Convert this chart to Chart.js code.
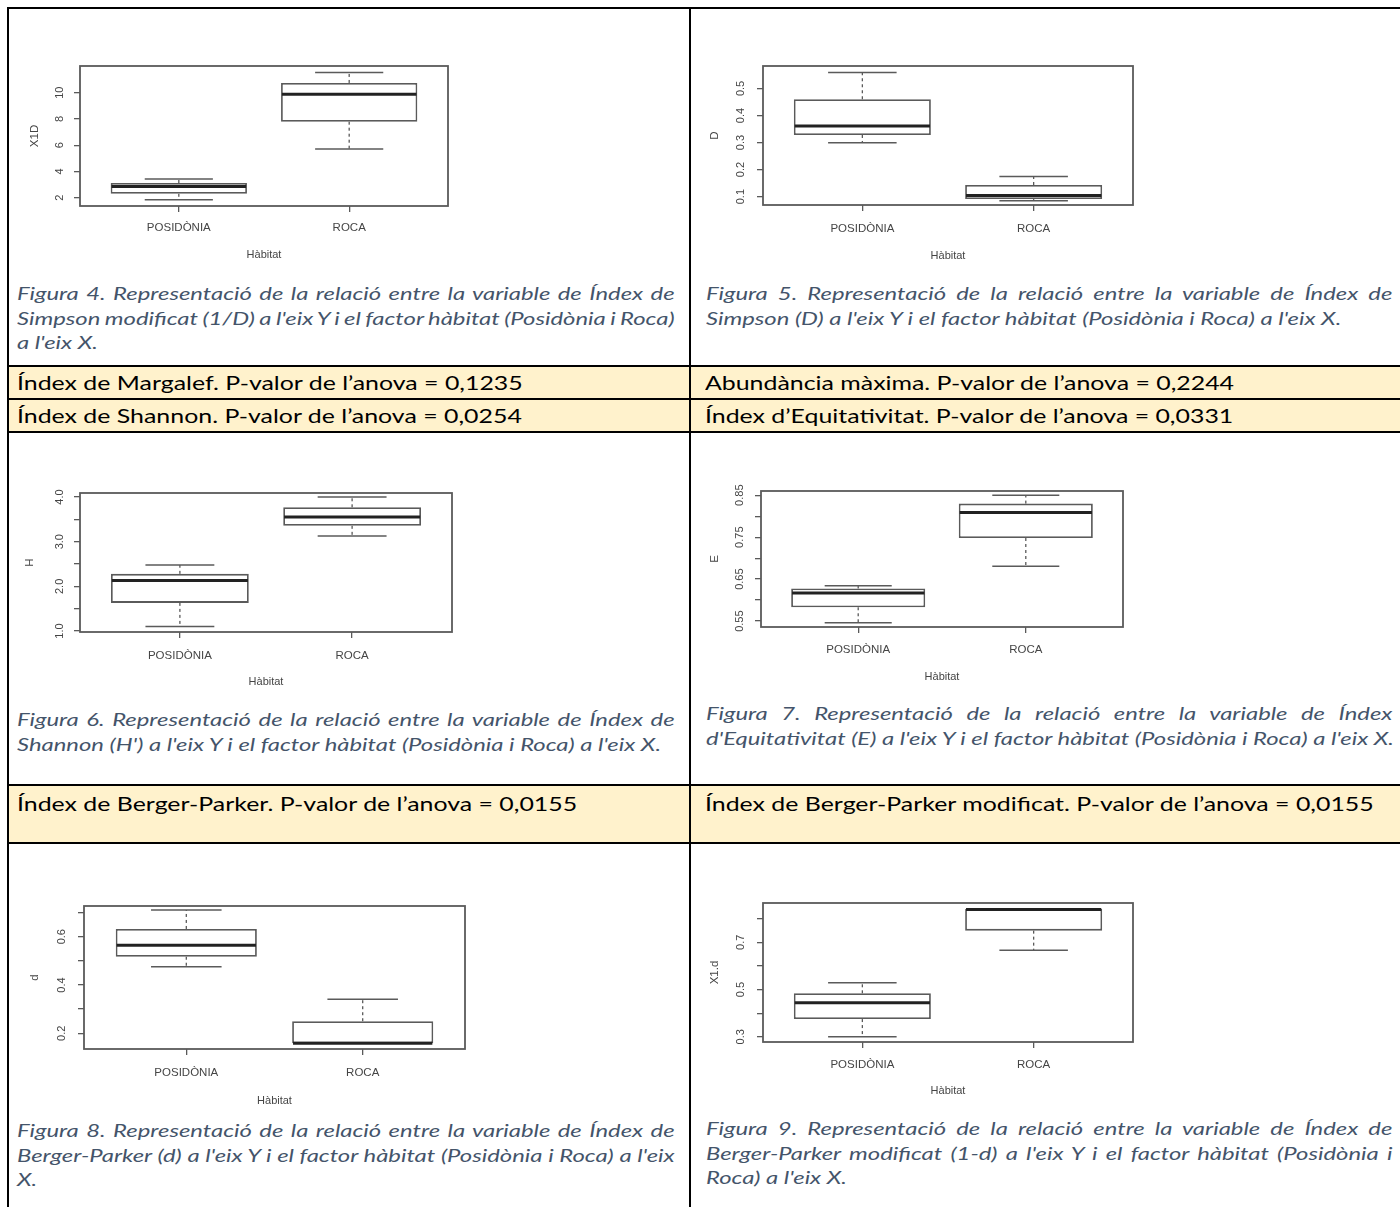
<!DOCTYPE html>
<html><head><meta charset="utf-8">
<script src="https://cdn.jsdelivr.net/npm/chart.js@4.4.1/dist/chart.umd.min.js"></script>
<style>
html,body{margin:0;padding:0;background:#fff;}
body{width:1400px;height:1207px;position:relative;overflow:hidden;font-family:Lato,"Noto Sans",sans-serif;}
.hl{position:absolute;height:2px;background:#000;}
.vl{position:absolute;width:2px;background:#000;}
.band{position:absolute;background:#FFF2CC;}
.bt{position:absolute;font-size:19px;color:#000;white-space:nowrap;transform:scaleX(1.31);transform-origin:0 0;}
.cap{position:absolute;color:#44546A;font-style:italic;font-size:17.4px;transform:scaleX(1.37);transform-origin:0 0;}
.cap div{height:24.5px;line-height:24.5px;white-space:nowrap;}
.cap .j{text-align:justify;text-align-last:justify;word-spacing:-2px;}
canvas.ch{position:absolute;filter:blur(0.3px);}
</style>
</head><body>

<!-- yellow bands -->
<div class="band" style="left:8px;top:367px;width:1392px;height:65px"></div>
<div class="band" style="left:8px;top:786px;width:1392px;height:57px"></div>

<!-- table lines -->
<div class="hl" style="left:7px;top:7px;width:1393px"></div>
<div class="hl" style="left:7px;top:365px;width:1393px"></div>
<div class="hl" style="left:7px;top:398px;width:1393px"></div>
<div class="hl" style="left:7px;top:431px;width:1393px"></div>
<div class="hl" style="left:7px;top:784px;width:1393px"></div>
<div class="hl" style="left:7px;top:842px;width:1393px"></div>
<div class="vl" style="left:7px;top:7px;height:1200px"></div>
<div class="vl" style="left:689px;top:7px;height:1200px"></div>

<!-- band texts -->
<div class="bt" style="left:17px;top:367px;line-height:31px">Índex de Margalef. P-valor de l’anova = 0,1235</div>
<div class="bt" style="left:705px;top:367px;line-height:31px">Abundància màxima. P-valor de l’anova = 0,2244</div>
<div class="bt" style="left:17px;top:400px;line-height:31px">Índex de Shannon. P-valor de l’anova = 0,0254</div>
<div class="bt" style="left:705px;top:400px;line-height:31px">Índex d’Equitativitat. P-valor de l’anova = 0,0331</div>
<div class="bt" style="left:17px;top:788px;line-height:31px">Índex de Berger-Parker. P-valor de l’anova = 0,0155</div>
<div class="bt" style="left:705px;top:788px;line-height:31px">Índex de Berger-Parker modificat. P-valor de l’anova = 0,0155</div>

<!-- captions (widths are unscaled = target / 1.37) -->
<div class="cap" style="left:17px;top:282px;width:480px">
<div class="j">Figura 4. Representació de la relació entre la variable de Índex de</div>
<div class="j">Simpson modificat (1/D) a l'eix Y i el factor hàbitat (Posidònia i Roca)</div>
<div>a l'eix X.</div>
</div>
<div class="cap" style="left:706px;top:282px;width:501px">
<div class="j">Figura 5. Representació de la relació entre la variable de Índex de</div>
<div>Simpson (D) a l'eix Y i el factor hàbitat (Posidònia i Roca) a l'eix X.</div>
</div>
<div class="cap" style="left:17px;top:708px;width:480px">
<div class="j">Figura 6. Representació de la relació entre la variable de Índex de</div>
<div>Shannon (H') a l'eix Y i el factor hàbitat (Posidònia i Roca) a l'eix X.</div>
</div>
<div class="cap" style="left:706px;top:702px;width:501px">
<div class="j">Figura 7. Representació de la relació entre la variable de Índex</div>
<div>d'Equitativitat (E) a l'eix Y i el factor hàbitat (Posidònia i Roca) a l'eix X.</div>
</div>
<div class="cap" style="left:17px;top:1119px;width:480px">
<div class="j">Figura 8. Representació de la relació entre la variable de Índex de</div>
<div class="j">Berger-Parker (d) a l'eix Y i el factor hàbitat (Posidònia i Roca) a l'eix</div>
<div>X.</div>
</div>
<div class="cap" style="left:706px;top:1117px;width:501px">
<div class="j">Figura 9. Representació de la relació entre la variable de Índex de</div>
<div class="j">Berger-Parker modificat (1-d) a l'eix Y i el factor hàbitat (Posidònia i</div>
<div>Roca) a l'eix X.</div>
</div>

<canvas class="ch" id="c1"></canvas>
<canvas class="ch" id="c2"></canvas>
<canvas class="ch" id="c3"></canvas>
<canvas class="ch" id="c4"></canvas>
<canvas class="ch" id="c5"></canvas>
<canvas class="ch" id="c6"></canvas>

<script>
// ---------- DATA ----------
const categories = ['POSIDÒNIA', 'ROCA'];
const xTitle = 'Hàbitat';
// each stats array: [lower whisker, Q1, median, Q3, upper whisker]

// Figura 4 — X1D (1/D)
const x1dPosidonia = [1.85, 2.30, 2.86, 3.12, 3.42];
const x1dRoca      = [5.71, 7.79, 9.88, 10.74, 11.53];
const x1dTicks     = [2, 4, 6, 8, 10];
const x1dTickLabels = ['2', '4', '6', '8', '10'];
const x1dRange     = [1.37, 12.03];

// Figura 5 — D
const dSimPosidonia = [0.299, 0.328, 0.361, 0.460, 0.559];
const dSimRoca      = [0.085, 0.091, 0.104, 0.143, 0.174];
const dSimTicks     = [0.1, 0.2, 0.3, 0.4, 0.5];
const dSimTickLabels = ['0.1', '0.2', '0.3', '0.4', '0.5'];
const dSimRange     = [0.069, 0.583];

// Figura 6 — H
const hPosidonia = [1.10, 1.63, 2.13, 2.28, 2.48];
const hRoca      = [3.13, 3.355, 3.55, 3.77, 4.00];
const hTicks     = [1.0, 1.5, 2.0, 2.5, 3.0, 3.5, 4.0];
const hTickLabels = ['1.0', '', '2.0', '', '3.0', '', '4.0'];
const hRange     = [0.978, 4.09];

// Figura 7 — E
const ePosidonia = [0.546, 0.583, 0.617, 0.628, 0.634];
const eRoca      = [0.681, 0.748, 0.809, 0.830, 0.850];
const eTicks     = [0.55, 0.60, 0.65, 0.70, 0.75, 0.80, 0.85];
const eTickLabels = ['0.55', '', '0.65', '', '0.75', '', '0.85'];
const eRange     = [0.536, 0.860];

// Figura 8 — d (Berger-Parker)
const bpPosidonia = [0.476, 0.517, 0.564, 0.632, 0.710];
const bpRoca      = [0.159, 0.159, 0.159, 0.250, 0.341];
const bpTicks     = [0.2, 0.3, 0.4, 0.5, 0.6, 0.7];
const bpTickLabels = ['0.2', '', '0.4', '', '0.6', ''];
const bpRange     = [0.135, 0.727];

// Figura 9 — X1.d (1-d)
const bpmPosidonia = [0.300, 0.375, 0.444, 0.484, 0.529];
const bpmRoca      = [0.666, 0.749, 0.838, 0.841, 0.841];
const bpmTicks     = [0.3, 0.4, 0.5, 0.6, 0.7, 0.8];
const bpmTickLabels = ['0.3', '', '0.5', '', '0.7', ''];
const bpmRange     = [0.278, 0.866];

// ---------- LAYOUT (plot-box positions in page pixels) ----------
const layouts = {
  c1: {L: 80,  T: 66,  R: 448,  B: 206,  tickDist: 20, yTitleDist: 45, xLabDist: 21, xTitleDist: 49},
  c2: {L: 763, T: 66,  R: 1133, B: 205,  tickDist: 22, yTitleDist: 48, xLabDist: 23, xTitleDist: 51},
  c3: {L: 80,  T: 493, R: 452,  B: 632,  tickDist: 20, yTitleDist: 50, xLabDist: 23, xTitleDist: 50},
  c4: {L: 761, T: 491, R: 1123, B: 627,  tickDist: 21, yTitleDist: 46, xLabDist: 22, xTitleDist: 50},
  c5: {L: 84,  T: 906, R: 465,  B: 1049, tickDist: 22, yTitleDist: 49, xLabDist: 23, xTitleDist: 52},
  c6: {L: 763, T: 903, R: 1133, B: 1042, tickDist: 22, yTitleDist: 48, xLabDist: 22, xTitleDist: 49}
};

const FONT = '"Liberation Sans", Arial, Helvetica, sans-serif';
const TXT = '#454545';
const LINE = '#5a5a5a';
Chart.defaults.font.family = FONT;
Chart.defaults.font.size = 11;

const mctx = document.createElement('canvas').getContext('2d');
mctx.font = '11px ' + FONT;
const measure = t => mctx.measureText(t).width;

const boxWhisk = {
  id: 'boxWhisk',
  afterDatasetsDraw(chart, args, opts) {
    const ctx = chart.ctx, ys = chart.scales.y;
    const meta = chart.getDatasetMeta(0);
    const line = (x1, y1, x2, y2) => { ctx.beginPath(); ctx.moveTo(x1, y1); ctx.lineTo(x2, y2); ctx.stroke(); };
    ctx.save();
    opts.stats.forEach((s, i) => {
      const el = meta.data[i];
      const cx = el.x, w = el.width;
      const pMin = ys.getPixelForValue(s[0]), pQ1 = ys.getPixelForValue(s[1]);
      const pMed = ys.getPixelForValue(s[2]), pQ3 = ys.getPixelForValue(s[3]);
      const pMax = ys.getPixelForValue(s[4]);
      ctx.strokeStyle = LINE; ctx.lineWidth = 1.3;
      ctx.setLineDash([3, 3]);
      line(cx, pQ3, cx, pMax);
      line(cx, pQ1, cx, pMin);
      ctx.setLineDash([]);
      ctx.lineWidth = 1.5;
      line(cx - w / 4, pMax, cx + w / 4, pMax);
      line(cx - w / 4, pMin, cx + w / 4, pMin);
      ctx.strokeStyle = '#222'; ctx.lineWidth = 3;
      line(cx - w / 2 + 0.9, pMed, cx + w / 2 - 0.9, pMed);
    });
    const a = chart.chartArea;
    ctx.strokeStyle = LINE; ctx.lineWidth = 1.8;
    ctx.strokeRect(a.left, a.top, a.right - a.left, a.bottom - a.top);
    ctx.restore();
  }
};

function boxChart(id, yTitle, posStats, rocaStats, yRange, yTicks, yTickLabels) {
  const lay = layouts[id];
  const cv = document.getElementById(id);
  const padT = 16, padR = 12, axW = 64, axH = 66, TL = 6;
  const W = lay.R - lay.L + axW + padR, H = lay.B - lay.T + padT + axH;
  cv.width = W; cv.height = H;
  cv.style.left = (lay.L - axW) + 'px'; cv.style.top = (lay.T - padT) + 'px';
  const widest = Math.max(...yTickLabels.map(measure));
  const gridOpts = {display: true, drawOnChartArea: false, drawTicks: true, tickLength: TL, color: LINE, lineWidth: 1.3, offset: false};
  return new Chart(cv, {
    type: 'bar',
    data: {
      datasets: [{
        data: [{x: 1, y: [posStats[1], posStats[3]]}, {x: 2, y: [rocaStats[1], rocaStats[3]]}],
        backgroundColor: '#ffffff', borderColor: LINE, borderWidth: 1.8, borderSkipped: false,
        barPercentage: 0.8, categoryPercentage: 1.0
      }]
    },
    options: {
      responsive: false, animation: false, devicePixelRatio: 1,
      layout: {padding: {left: 0, top: padT, right: padR, bottom: 0}},
      plugins: {legend: {display: false}, tooltip: {enabled: false}, boxWhisk: {stats: [posStats, rocaStats]}},
      scales: {
        x: {
          type: 'linear', min: 0.42, max: 2.58, offset: false,
          afterBuildTicks: s => { s.ticks = [{value: 1}, {value: 2}]; },
          afterFit: s => { s.height = axH; },
          grid: gridOpts, border: {display: false},
          ticks: {autoSkip: false, minRotation: 0, maxRotation: 0, padding: lay.xLabDist - TL - 6,
                  color: TXT, font: {size: 11.5}, callback: (v, i) => categories[i]},
          title: {display: true, text: xTitle, color: TXT, font: {size: 11},
                  padding: {top: 0, bottom: axH - lay.xTitleDist - 6.6}}
        },
        y: {
          type: 'linear', min: yRange[0], max: yRange[1],
          afterBuildTicks: s => { s.ticks = yTicks.map(v => ({value: v})); },
          afterFit: s => { s.width = axW; },
          grid: gridOpts, border: {display: false},
          ticks: {autoSkip: false, minRotation: 90, maxRotation: 90, crossAlign: 'center',
                  padding: lay.tickDist - TL - widest / 2, color: TXT, font: {size: 11},
                  callback: (v, i) => yTickLabels[i]},
          title: {display: true, text: yTitle, color: TXT, font: {size: 11.5},
                  padding: {top: axW - lay.yTitleDist - 6.9, bottom: 0}}
        }
      }
    },
    plugins: [boxWhisk]
  });
}

boxChart('c1', 'X1D',  x1dPosidonia, x1dRoca, x1dRange, x1dTicks, x1dTickLabels);
boxChart('c2', 'D',    dSimPosidonia, dSimRoca, dSimRange, dSimTicks, dSimTickLabels);
boxChart('c3', 'H',    hPosidonia, hRoca, hRange, hTicks, hTickLabels);
boxChart('c4', 'E',    ePosidonia, eRoca, eRange, eTicks, eTickLabels);
boxChart('c5', 'd',    bpPosidonia, bpRoca, bpRange, bpTicks, bpTickLabels);
boxChart('c6', 'X1.d', bpmPosidonia, bpmRoca, bpmRange, bpmTicks, bpmTickLabels);
</script>
</body></html>
